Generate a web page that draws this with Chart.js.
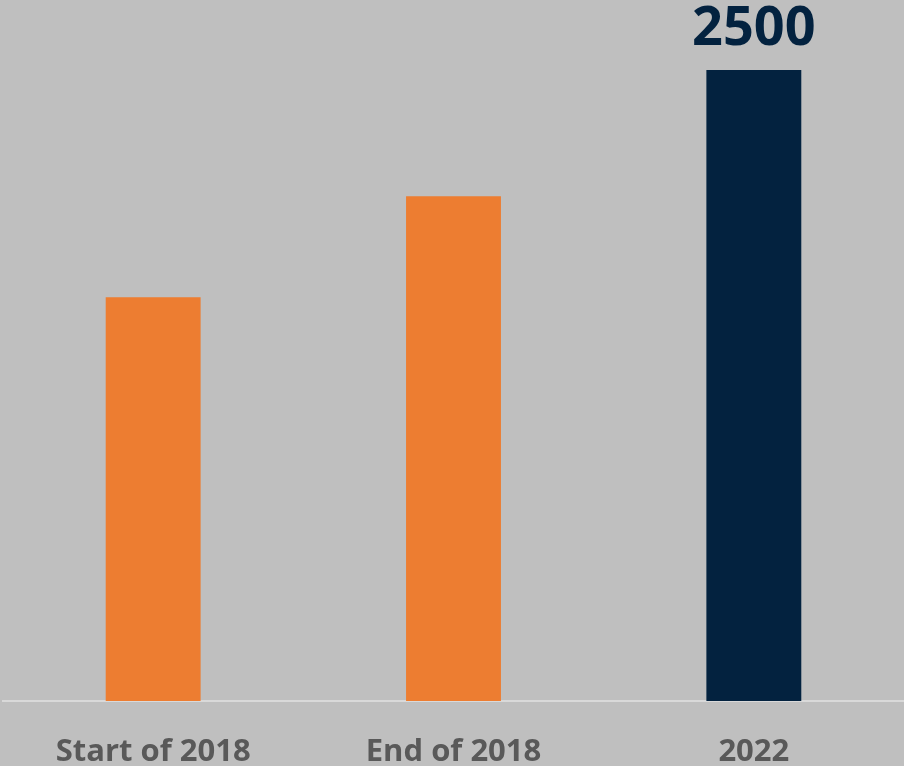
<!DOCTYPE html>
<html>
<head>
<meta charset="utf-8">
<script src="https://cdn.jsdelivr.net/npm/chart.js@4.4.0/dist/chart.umd.min.js"></script>
<style>
  html, body { margin: 0; padding: 0; background: #bfbfbf; }
  #box { width: 904px; height: 766px; }
</style>
</head>
<body>
<div id="box"><canvas id="grafico"></canvas></div>
<script>
const categorias = ['Start of 2018', 'End of 2018', '2022'];
const valores = [1600, 2000, 2500];
const cores = ['#ED7D31', '#ED7D31', '#03223F'];
const rotulos = ['', '', '2500'];

// rotulo de valor acima da barra
const rotuloBarra = {
  id: 'rotuloBarra',
  afterDatasetsDraw(chart) {
    const ctx = chart.ctx;
    const meta = chart.getDatasetMeta(0);
    ctx.save();
    ctx.fillStyle = '#03223F';
    ctx.font = 'bold 54px "Open Sans"';
    ctx.textAlign = 'center';
    ctx.textBaseline = 'alphabetic';
    meta.data.forEach((barra, i) => {
      if (!rotulos[i]) return;
      ctx.fillText(rotulos[i], barra.x, barra.y - 25);
    });
    ctx.restore();
  }
};

let grafico = new Chart(document.getElementById('grafico'), {
  type: 'bar',
  data: {
    labels: categorias,
    datasets: [{
      data: valores,
      backgroundColor: cores,
      borderWidth: 0,
      barPercentage: 0.316,
      categoryPercentage: 1
    }]
  },
  options: {
    responsive: true,
    maintainAspectRatio: false,
    animation: false,
    layout: { padding: { top: 70, left: 3, right: 0, bottom: 0 } },
    plugins: {
      legend: { display: false },
      tooltip: { enabled: false }
    },
    scales: {
      x: {
        grid: { display: false, drawTicks: false },
        border: { display: true, color: '#d9d9d9', width: 2 },
        ticks: {
          color: '#595959',
          padding: 33,
          maxRotation: 0,
          font: { family: '"Open Sans"', size: 31, weight: 'bold' }
        },
        afterFit(scale) {
          scale.height = 65;
        }
      },
      y: {
        display: false,
        min: 0,
        max: 2500
      }
    }
  },
  plugins: [rotuloBarra]
});
</script>
</body>
</html>
